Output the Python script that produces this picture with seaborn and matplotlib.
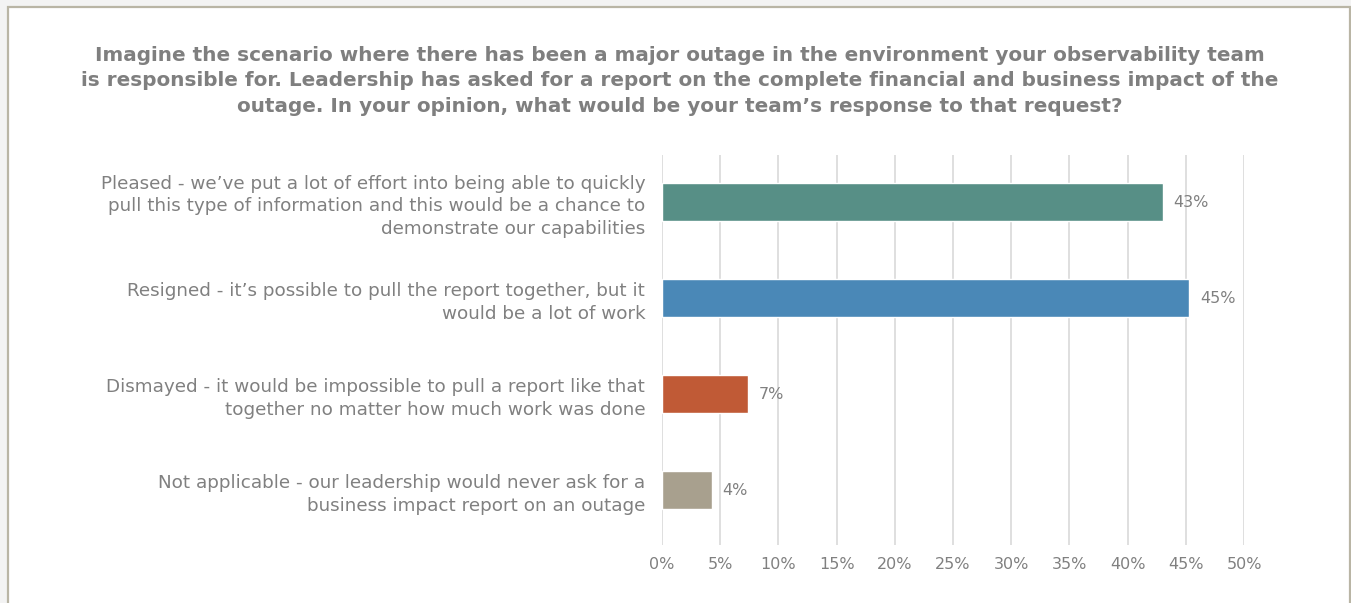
import matplotlib
matplotlib.use("Agg")
import matplotlib.pyplot as plt
import matplotlib.patches as mpatches
import seaborn as sns
import pandas as pd

# Survey responses
categories = [
    "Pleased - we\u2019ve put a lot of effort into being able to quickly\npull this type of information and this would be a chance to\ndemonstrate our capabilities",
    "Resigned - it\u2019s possible to pull the report together, but it\nwould be a lot of work",
    "Dismayed - it would be impossible to pull a report like that\ntogether no matter how much work was done",
    "Not applicable - our leadership would never ask for a\nbusiness impact report on an outage",
]
shares = [43.0, 45.3, 7.4, 4.3]
bar_colors = ["#578f86", "#4a88b7", "#c05a36", "#a8a08e"]
x_ticks = [0, 5, 10, 15, 20, 25, 30, 35, 40, 45, 50]
title = ("Imagine the scenario where there has been a major outage in the environment your observability team\n"
         "is responsible for. Leadership has asked for a report on the complete financial and business impact of the\n"
         "outage. In your opinion, what would be your team\u2019s response to that request?")

sns.set_theme(style="white")
plt.rcParams["font.family"] = ["DejaVu Sans"]

text_gray = "#808080"
W, H = 1351, 603
fig = plt.figure(figsize=(W / 100, H / 100), dpi=100)
fig.patch.set_facecolor("#f3f3f3")

# White chart panel with a thin warm-gray frame, kept behind the axes
panel = mpatches.Rectangle((8 / W, -0.02), (W - 9) / W, 1 - 7 / H + 0.02,
                           transform=fig.transFigure, facecolor="white",
                           edgecolor="#b9b5a5", linewidth=1.6, zorder=-5)
fig.patches.append(panel)

ax = fig.add_axes([662 / W, 1 - 545 / H, (1244 - 662) / W, (545 - 155) / H])
ax.set_facecolor("none")
ax.set_zorder(2)

df = pd.DataFrame({"category": categories, "share": shares})
sns.barplot(data=df, x="share", y="category", hue="category",
            palette=bar_colors, legend=False, width=0.4, ax=ax,
            saturation=1, zorder=3)

ax.set_xlim(0, 50)
ax.set_ylim(3.57, -0.49)
ax.set_xticks(x_ticks)
ax.set_xticklabels([f"{t}%" for t in x_ticks], color=text_gray, fontsize=11.5)
ax.tick_params(axis="x", length=0, pad=8.5)
ax.tick_params(axis="y", length=0, pad=12)
for lbl in ax.get_yticklabels():
    lbl.set_color(text_gray)
    lbl.set_fontsize(13.2)
    lbl.set_horizontalalignment("right")
    lbl.set_multialignment("right")
    lbl.set_linespacing(1.34)
ax.set_xlabel("")
ax.set_ylabel("")
for s in ax.spines.values():
    s.set_visible(False)
ax.grid(axis="x", color="#d9d9d9", linewidth=1.2, zorder=0)
ax.grid(axis="y", visible=False)

for i, v in enumerate(shares):
    ax.text(v + 0.9, i, f"{v:.0f}%", va="center", ha="left",
            color=text_gray, fontsize=11.5)

fig.text(680 / W, 1 - 81 / H, title, ha="center", va="center",
         fontsize=14.4, fontweight="bold", color="#7f7f7f", linespacing=1.43)

fig.savefig("out.png", dpi=100, facecolor=fig.get_facecolor())
